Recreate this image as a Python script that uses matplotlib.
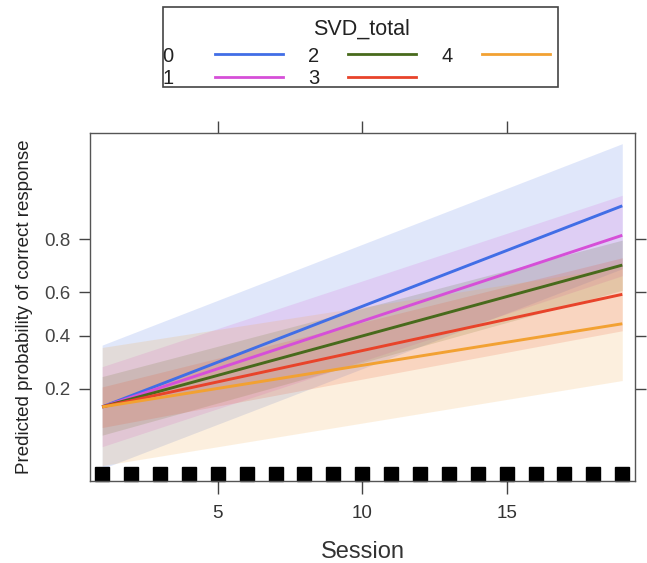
import matplotlib
matplotlib.use("Agg")
import matplotlib.pyplot as plt
import matplotlib.transforms as mtransforms
from matplotlib.lines import Line2D
from matplotlib.patches import Rectangle
import numpy as np

plt.rcParams["font.family"] = ["Liberation Sans", "DejaVu Sans"]

# effect estimates (probabilities, logit axis)
groups = ["0", "1", "2", "3", "4"]
colors = ["#416ee6", "#d64fd8", "#486a1c", "#e8432a", "#f2a132"]
session_ends = [1, 19]
fit_start = [0.152, 0.152, 0.152, 0.152, 0.152]
fit_end = [0.881, 0.811, 0.712, 0.590, 0.455]
lower_start = [0.054, 0.079, 0.096, 0.109, 0.057]
upper_start = [0.360, 0.274, 0.239, 0.206, 0.350]
lower_end = [0.698, 0.670, 0.608, 0.423, 0.226]
upper_end = [0.959, 0.900, 0.797, 0.739, 0.706]
sessions = list(range(1, 20))
xticks = [5, 10, 15]
yticks = [0.2, 0.4, 0.6, 0.8]

W, H = 647, 563
fig = plt.figure(figsize=(W / 100, H / 100), dpi=100)
ax = fig.add_axes([90 / W, 1 - 481 / H, 545 / W, 348 / H])
ax.set_yscale("logit")

for i, g in enumerate(groups):
    ax.fill_between(session_ends, [lower_start[i], lower_end[i]],
                    [upper_start[i], upper_end[i]],
                    color=colors[i], alpha=0.16, linewidth=0)
for i, g in enumerate(groups):
    ax.plot(session_ends, [fit_start[i], fit_end[i]], color=colors[i], lw=2.1,
            solid_capstyle="butt")

# rug
trans = mtransforms.blended_transform_factory(ax.transData, ax.transAxes)
ax.plot(sessions, [0.019] * len(sessions), "s", color="black", ms=9.4,
        transform=trans, clip_on=False)

ax.set_xlim(0.58, 19.44)
ax.set_ylim(0.0435, 0.9661)
ax.set_xticks(xticks)
ax.set_xticklabels([str(t) for t in xticks])
ax.set_yticks(yticks)
ax.set_yticklabels([str(t) for t in yticks])
ax.yaxis.set_minor_locator(matplotlib.ticker.NullLocator())
ax.tick_params(axis="x", top=True, bottom=True, direction="out", length=9,
               width=1, color="#444444", labelsize=13.5, labelcolor="#333333", pad=8)
ax.tick_params(axis="y", left=True, right=True, direction="out", length=8,
               width=1, color="#444444", labelsize=13.5, labelcolor="#444444", pad=6)
for s in ax.spines.values():
    s.set_color("#555555")
    s.set_linewidth(1)

ax.set_xlabel("Session", fontsize=17, color="#333333", labelpad=14)
ax.set_ylabel("Predicted probability of correct response", fontsize=13.5,
              color="#222222", labelpad=8)

# legend box (lattice key)
def fx(x):
    return x / W

def fy(y):
    return 1 - y / H

fig.patches.append(Rectangle((fx(163), fy(87)), fx(558) - fx(163), fy(7) - fy(87),
                             transform=fig.transFigure, fill=False,
                             edgecolor="#444444", lw=1.2))
fig.text(fx(362), fy(29), "SVD_total", fontsize=15.5, ha="center", va="center",
         color="#222222")
label_x = [168, 314, 447]
line_x = [215, 348, 482]
label_y = [56, 78]
line_y = [54, 77]
for i, g in enumerate(groups):
    c, r = divmod(i, 2)
    fig.text(fx(label_x[c]), fy(label_y[r]), g, fontsize=14.5, ha="center",
             va="center", color="#222222")
    fig.lines.append(Line2D([fx(line_x[c]), fx(line_x[c] + 68)],
                            [fy(line_y[r]), fy(line_y[r])],
                            transform=fig.transFigure, color=colors[i], lw=2))

fig.savefig("out.png", dpi=100)
